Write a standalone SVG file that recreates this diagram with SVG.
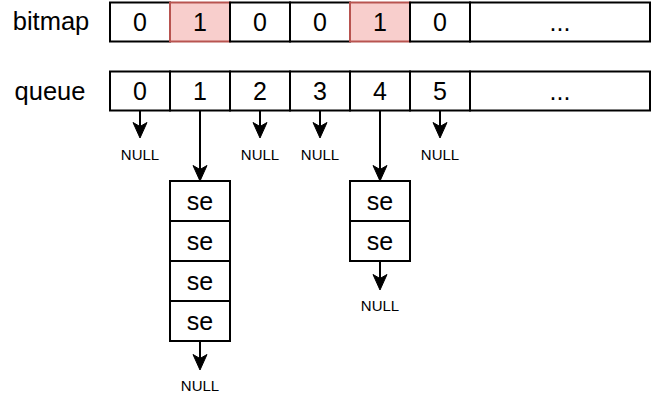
<svg xmlns="http://www.w3.org/2000/svg" xmlns:xlink="http://www.w3.org/1999/xlink" width="652" height="402" viewBox="0 0 652 402">
<style>
  .cell { fill: #ffffff; stroke: #000000; stroke-width: 2; }
  .hot { fill: #f8cecc; stroke: #b85450; stroke-width: 2; }
  .t { font-family: "Liberation Sans", Arial, Helvetica, sans-serif; font-size: 25px; fill: #000000; text-anchor: middle; }
  .lbl { font-family: "Liberation Sans", Arial, Helvetica, sans-serif; font-size: 25.5px; fill: #000000; text-anchor: middle; }
  .null { font-family: "Liberation Sans", Arial, Helvetica, sans-serif; font-size: 15px; fill: #000000; text-anchor: middle; }
  .edge { stroke: #000000; stroke-width: 2; fill: none; }
  .head { fill: #000000; stroke: #000000; stroke-width: 1; stroke-linejoin: miter; }
</style>
<defs>
  <path id="ah" class="head" d="M0,0 L-7,-15.5 L0,-11.5 L7,-15.5 Z"/>
</defs>

<g id="label-bitmap"><text class="lbl" x="51" y="30">bitmap</text></g>
<g id="label-queue"><text class="lbl" x="50" y="100">queue</text></g>

<g id="bitmap">
  <g id="bitmap-0"><rect class="cell" x="110" y="2.5" width="60" height="39"/><text class="t" x="140" y="31">0</text></g>
  <g id="bitmap-1"><rect class="hot" x="170" y="2.5" width="60" height="39"/><text class="t" x="200" y="31">1</text></g>
  <g id="bitmap-2"><rect class="cell" x="230" y="2.5" width="60" height="39"/><text class="t" x="260" y="31">0</text></g>
  <g id="bitmap-3"><rect class="cell" x="290" y="2.5" width="60" height="39"/><text class="t" x="320" y="31">0</text></g>
  <g id="bitmap-4"><rect class="hot" x="350" y="2.5" width="60" height="39"/><text class="t" x="380" y="31">1</text></g>
  <g id="bitmap-5"><rect class="cell" x="410" y="2.5" width="60" height="39"/><text class="t" x="440" y="31">0</text></g>
  <g id="bitmap-more"><rect class="cell" x="470" y="2.5" width="180" height="39"/><text class="t" x="560" y="31">...</text></g>
</g>

<g id="queue">
  <g id="queue-0"><rect class="cell" x="110" y="71.5" width="60" height="39"/><text class="t" x="140" y="100">0</text></g>
  <g id="queue-1"><rect class="cell" x="170" y="71.5" width="60" height="39"/><text class="t" x="200" y="100">1</text></g>
  <g id="queue-2"><rect class="cell" x="230" y="71.5" width="60" height="39"/><text class="t" x="260" y="100">2</text></g>
  <g id="queue-3"><rect class="cell" x="290" y="71.5" width="60" height="39"/><text class="t" x="320" y="100">3</text></g>
  <g id="queue-4"><rect class="cell" x="350" y="71.5" width="60" height="39"/><text class="t" x="380" y="100">4</text></g>
  <g id="queue-5"><rect class="cell" x="410" y="71.5" width="60" height="39"/><text class="t" x="440" y="100">5</text></g>
  <g id="queue-more"><rect class="cell" x="470" y="71.5" width="180" height="39"/><text class="t" x="560" y="100">...</text></g>
</g>

<g id="list-1">
  <g id="se-1a"><rect class="cell" x="170" y="181" width="60" height="40"/><text class="t" x="200" y="210">se</text></g>
  <g id="se-1b"><rect class="cell" x="170" y="221" width="60" height="40"/><text class="t" x="200" y="250">se</text></g>
  <g id="se-1c"><rect class="cell" x="170" y="261" width="60" height="40"/><text class="t" x="200" y="290">se</text></g>
  <g id="se-1d"><rect class="cell" x="170" y="301" width="60" height="40"/><text class="t" x="200" y="330">se</text></g>
</g>

<g id="list-4">
  <g id="se-4a"><rect class="cell" x="350" y="181" width="60" height="40"/><text class="t" x="380" y="210">se</text></g>
  <g id="se-4b"><rect class="cell" x="350" y="221" width="60" height="40"/><text class="t" x="380" y="250">se</text></g>
</g>

<g id="null-labels">
  <text class="null" x="140" y="159.5">NULL</text>
  <text class="null" x="260" y="159.5">NULL</text>
  <text class="null" x="320" y="159.5">NULL</text>
  <text class="null" x="440" y="159.5">NULL</text>
  <text class="null" x="380" y="311">NULL</text>
  <text class="null" x="200" y="391">NULL</text>
</g>

<g id="connectors">
  <line class="edge" x1="140" y1="111" x2="140" y2="127"/><use xlink:href="#ah" x="140" y="138"/>
  <line class="edge" x1="200" y1="111" x2="200" y2="170"/><use xlink:href="#ah" x="200" y="181"/>
  <line class="edge" x1="260" y1="111" x2="260" y2="127"/><use xlink:href="#ah" x="260" y="138"/>
  <line class="edge" x1="320" y1="111" x2="320" y2="127"/><use xlink:href="#ah" x="320" y="138"/>
  <line class="edge" x1="380" y1="111" x2="380" y2="170"/><use xlink:href="#ah" x="380" y="181"/>
  <line class="edge" x1="440" y1="111" x2="440" y2="127"/><use xlink:href="#ah" x="440" y="138"/>
  <line class="edge" x1="380" y1="261" x2="380" y2="279"/><use xlink:href="#ah" x="380" y="290"/>
  <line class="edge" x1="200" y1="341" x2="200" y2="359"/><use xlink:href="#ah" x="200" y="370"/>
</g>
</svg>
